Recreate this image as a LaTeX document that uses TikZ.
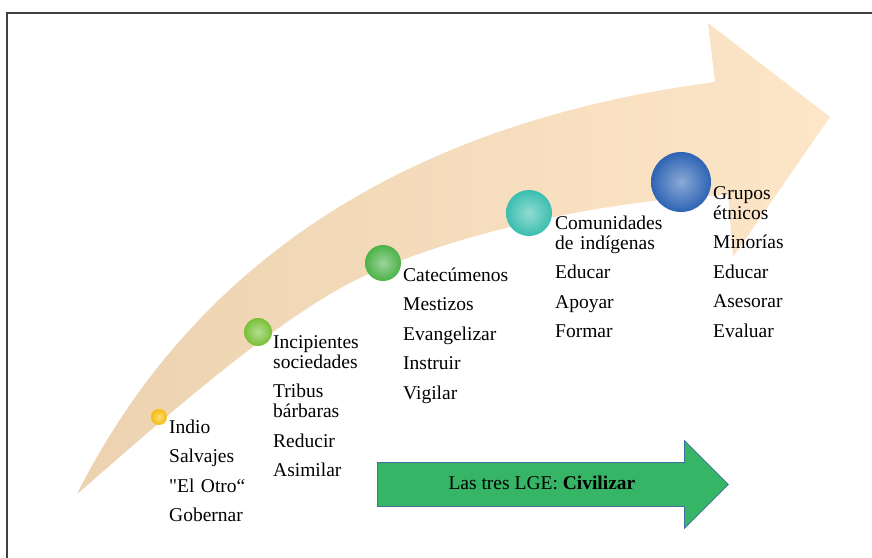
\documentclass[tikz,border=0pt]{standalone}
\usepackage{fontspec}
\setmainfont{Liberation Serif}
\usetikzlibrary{shapes.arrows}
\definecolor{arrowpeach}{RGB}{253,230,200}
\definecolor{arrowtan}{RGB}{236,210,176}
\definecolor{ballyellow}{RGB}{245,188,10}
\definecolor{balllime}{RGB}{120,192,55}
\definecolor{ballgreen}{RGB}{75,178,72}
\definecolor{ballteal}{RGB}{58,190,175}
\definecolor{ballblue}{RGB}{45,100,180}
\definecolor{lgegreen}{RGB}{54,181,102}
\definecolor{lgeborder}{RGB}{65,113,156}

\tikzset{
  stage/.style={anchor=base west, inner sep=0pt, align=left, text width=4.5cm,
    font=\fontsize{19.5}{20}\selectfont},
  bead/.style={circle, inner sep=0pt, inner color=#1!55!white, outer color=#1},
}

\begin{document}
\begin{tikzpicture}[x=1pt,y=-1pt]
  \useasboundingbox (0,0) rectangle (872,557);
  \draw[black!75, line width=1.2pt] (7,600) |- (900,13); % frame
  % big curved arrow
  \shade[left color=arrowtan, right color=arrowpeach]
    (77,494) .. controls (170,310) and (350,130) .. (715,82)
    -- (708,23) -- (830,117) -- (733,257) -- (728,195)
    .. controls (600,200) and (450,235) .. (360,278)
    .. controls (270,321) and (140,440) .. (77,494) -- cycle;
  % beads along the arrow
  \foreach \name/\col/\rad/\cx/\cy in {
      indio/ballyellow/8/159/417,
      incip/balllime/14/258/332,
      catec/ballgreen/18/383/263,
      comun/ballteal/23/529/213,
      grupos/ballblue/30/681/182}
  {
    \node[bead=\col, minimum size={2*\rad*1pt}] (ball-\name) at (\cx,\cy) {};
  }
  % stage texts
  \foreach \name/\tx/\ty/\txt in {
      indio/169/433/{Indio\\[9.5pt]Salvajes\\[9.5pt]\textquotedbl El Otro“\\[9.5pt]Gobernar},
      incip/273/348/{Incipientes\\sociedades\\[9.5pt]Tribus\\bárbaras\\[9.5pt]Reducir\\[9.5pt]Asimilar},
      catec/403/281/{Catecúmenos\\[9.5pt]Mestizos\\[9.5pt]Evangelizar\\[9.5pt]Instruir\\[9.5pt]Vigilar},
      comun/555/229/{Comunidades\\de indígenas\\[9.5pt]Educar\\[9.5pt]Apoyar\\[9.5pt]Formar},
      grupos/713/199/{Grupos\\étnicos\\[9.5pt]Minorías\\[9.5pt]Educar\\[9.5pt]Asesorar\\[9.5pt]Evaluar}}
  {
    \node[stage] (txt-\name) at (\tx,\ty) {\txt};
  }
  % green arrow
  \node[single arrow, fill=lgegreen, draw=lgeborder, line width=0.8pt,
    single arrow head extend=22pt, minimum height=351pt,
    text height=13pt, text depth=4pt, inner ysep=13pt,
    font=\fontsize{19.5}{20}\selectfont, anchor=tail]
    (lge) at (377,484.5) {Las tres LGE: \textbf{Civilizar}};
\end{tikzpicture}
\end{document}
